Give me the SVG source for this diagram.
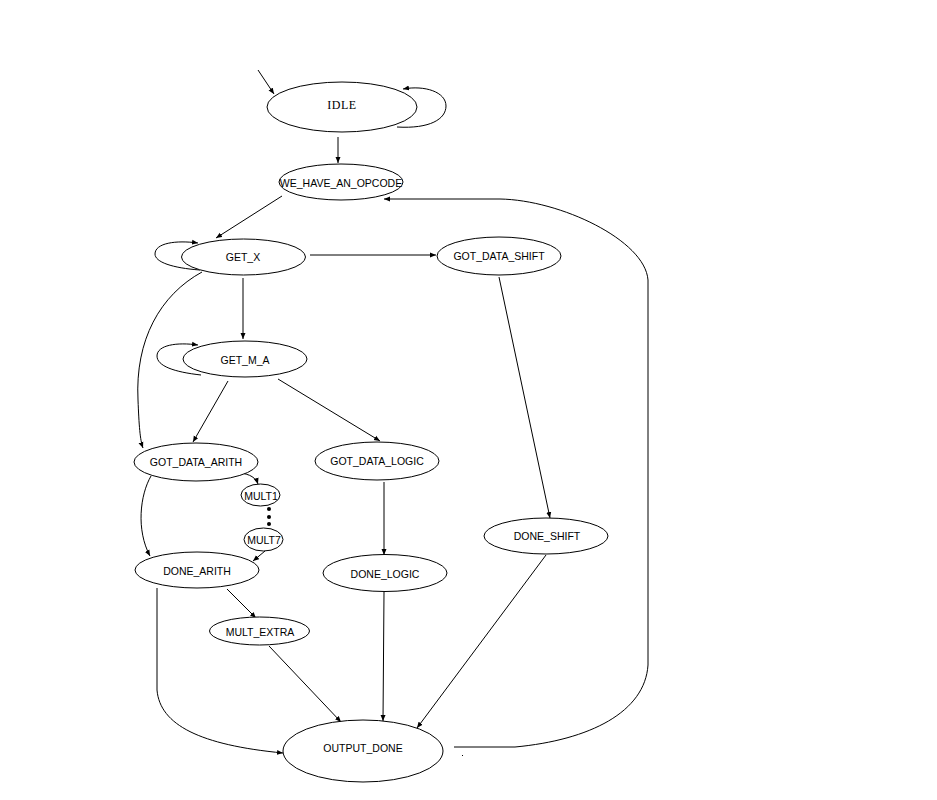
<svg xmlns="http://www.w3.org/2000/svg" width="937" height="800" viewBox="0 0 937 800">
<defs>
<marker id="ah" markerWidth="7" markerHeight="6" refX="6" refY="3" orient="auto" markerUnits="userSpaceOnUse">
<path d="M0,0.5 L6,3 L0,5.5 Z" fill="#000"/>
</marker>
<style>
.n ellipse{fill:#fff;stroke:#000;stroke-width:1}
.n text{font-family:"Liberation Sans",Arial,sans-serif;font-size:10.5px;fill:#000;text-anchor:middle;dominant-baseline:central}
.n text.serif{font-family:"Liberation Serif","Times New Roman",serif;font-size:12px;letter-spacing:0.5px}
#edges path{fill:none;stroke:#000;stroke-width:1;marker-end:url(#ah)}
</style>
</defs>
<rect width="937" height="800" fill="#fff"/>
<g id="edges">
<path d="M258,70 L274,94"/>
<path d="M397,127 C430,129 446,119 446,106 C446,92 425,85 403,89"/>
<path d="M338,137 L338,163"/>
<path d="M282,196 L216,238"/>
<path d="M200,270 C172,268 155,262 155,254 C155,243 176,240 198,243"/>
<path d="M310,255 L436,255"/>
<path d="M243,278 L243,339"/>
<path d="M202,272 C160,295 135,340 138,400 C139,425 140,440 143,448"/>
<path d="M201,375 C174,372 157,366 157,356 C157,345 177,342 198,345"/>
<path d="M228,381 L193,442"/>
<path d="M278,379 L380,441"/>
<path d="M499,277 L550,518"/>
<path d="M240,473 C250,474 256,478 258,484"/>
<path d="M151,476 C140,495 136,530 150,556"/>
<path d="M265,551 L253,561"/>
<path d="M384,482 L384,555"/>
<path d="M227,589 L256,618"/>
<path d="M157,588 L157,690 C160,725 200,745 283,753"/>
<path d="M269,646 L341,722"/>
<path d="M384,592 L383,721"/>
<path d="M546,555 L417,728"/>
<path d="M454,747 L515,747 C590,740 645,712 648,665 L648,280 C645,240 560,200 500,199 L384,199"/>
</g>
<g id="IDLE" class="n"><ellipse cx="342" cy="107" rx="75" ry="25"/><text class="serif" x="342" y="105">IDLE</text></g>
<g id="WE_HAVE_AN_OPCODE" class="n"><ellipse cx="341" cy="182" rx="62" ry="18"/><text x="341" y="183">WE_HAVE_AN_OPCODE</text></g>
<g id="GET_X" class="n"><ellipse cx="243.5" cy="257" rx="62" ry="18"/><text x="243" y="257">GET_X</text></g>
<g id="GOT_DATA_SHIFT" class="n"><ellipse cx="499" cy="256" rx="62" ry="19"/><text x="499" y="256">GOT_DATA_SHIFT</text></g>
<g id="GET_M_A" class="n"><ellipse cx="245" cy="359" rx="62" ry="18"/><text x="245" y="360">GET_M_A</text></g>
<g id="GOT_DATA_ARITH" class="n"><ellipse cx="196" cy="462" rx="62" ry="19"/><text x="196" y="462">GOT_DATA_ARITH</text></g>
<g id="GOT_DATA_LOGIC" class="n"><ellipse cx="377" cy="461" rx="62" ry="19"/><text x="377" y="461">GOT_DATA_LOGIC</text></g>
<g id="MULT1" class="n"><ellipse cx="260.5" cy="495" rx="19.5" ry="11"/><text x="261" y="496">MULT1</text></g>
<g id="dots"><circle cx="269" cy="509" r="2"/><circle cx="269" cy="517" r="2"/><circle cx="269" cy="524" r="2"/></g>
<g id="MULT7" class="n"><ellipse cx="263.5" cy="539.5" rx="19.5" ry="11.5"/><text x="264" y="540">MULT7</text></g>
<g id="DONE_ARITH" class="n"><ellipse cx="197" cy="570" rx="62" ry="18"/><text x="197" y="571">DONE_ARITH</text></g>
<g id="DONE_LOGIC" class="n"><ellipse cx="385" cy="573" rx="62" ry="18.5"/><text x="385" y="574">DONE_LOGIC</text></g>
<g id="DONE_SHIFT" class="n"><ellipse cx="546" cy="536" rx="62" ry="18"/><text x="547" y="536">DONE_SHIFT</text></g>
<g id="MULT_EXTRA" class="n"><ellipse cx="259.5" cy="631" rx="50" ry="14"/><text x="260" y="632">MULT_EXTRA</text></g>
<g id="OUTPUT_DONE" class="n"><ellipse cx="363" cy="751" rx="80" ry="31"/><text x="363" y="748">OUTPUT_DONE</text></g>
<rect x="462" y="755" width="1" height="1" fill="#000"/>
</svg>
